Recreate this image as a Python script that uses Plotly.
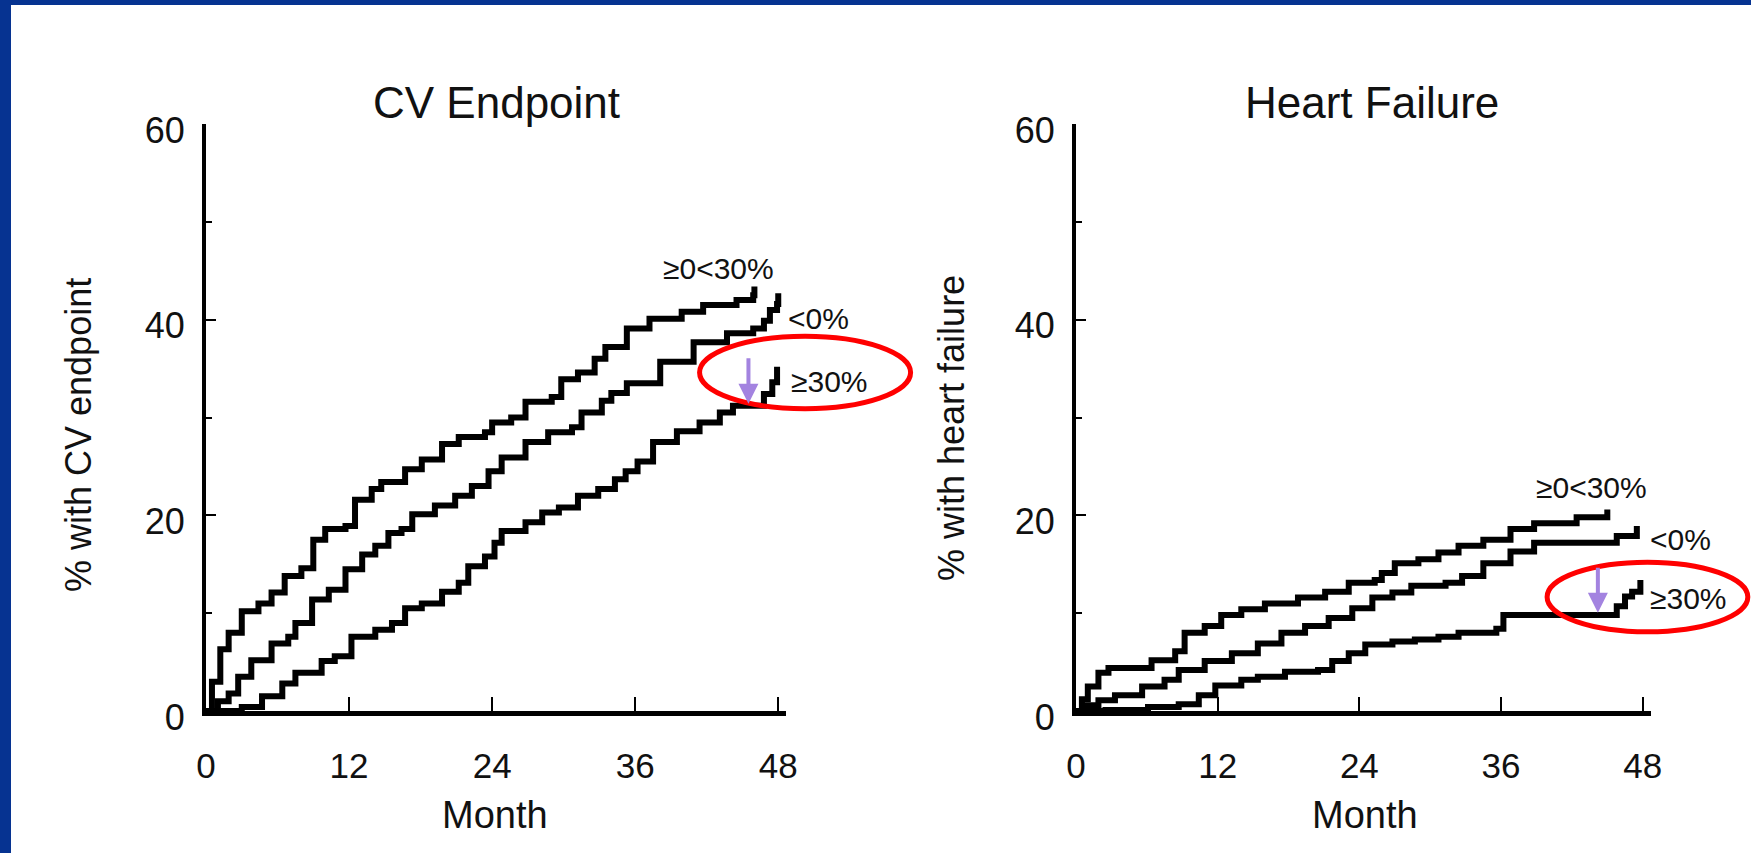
import plotly.graph_objects as go

# ---------------- data ----------------
MONTH_TICKS = [0, 12, 24, 36, 48]
PCT_TICKS = [0, 20, 40, 60]
PCT_MINOR = [10, 30, 50]

# CV Endpoint panel
cv_mid_m = [0, 0.5, 1.2, 1.9, 3.0, 4.4, 5.5, 6.6, 8.0, 9.0, 10.0, 11.7, 12.5, 13.9, 14.7, 16.7, 18.1,
            19.8, 21.2, 23.4, 24.0, 25.6, 26.8, 29.0, 29.8, 31.2, 32.6, 33.5, 35.3, 37.2, 39.9, 41.7,
            44.5, 45.9, 46.0]
cv_mid_v = [0, 3.0, 6.3, 8.0, 10.2, 11.0, 12.1, 13.8, 14.6, 17.5, 18.6, 18.9, 21.6, 22.7, 23.4, 24.7,
            25.7, 27.3, 28.0, 28.5, 29.5, 30.0, 31.6, 32.1, 33.9, 34.6, 36.0, 37.2, 39.1, 40.1, 40.8,
            41.5, 42.0, 42.5, 43.4]

cv_neg_m = [0, 1.0, 1.9, 2.7, 3.8, 5.5, 6.9, 7.5, 8.9, 10.3, 11.7, 13.1, 14.2, 15.3, 16.4, 17.3, 19.2,
            20.9, 22.3, 23.7, 24.8, 26.8, 28.7, 30.7, 31.5, 33.2, 34.0, 35.3, 38.1, 40.9, 43.7, 45.9,
            46.8, 47.3, 47.9, 48.0]
cv_neg_v = [0, 1.0, 1.8, 3.5, 5.2, 6.9, 7.6, 9.0, 11.4, 12.4, 14.5, 16.0, 16.9, 18.2, 18.6, 20.1, 21.0,
            22.0, 23.0, 24.5, 25.9, 27.5, 28.5, 29.0, 30.5, 31.7, 32.5, 33.5, 35.7, 37.7, 38.6, 39.1,
            39.9, 41.0, 41.6, 42.7]

cv_high_m = [0, 3.0, 4.7, 6.4, 7.5, 9.7, 10.8, 12.2, 14.2, 15.6, 16.7, 18.1, 19.8, 21.2, 22.0, 23.4,
             24.2, 24.8, 26.8, 28.2, 29.6, 31.2, 32.9, 34.3, 35.2, 36.2, 37.5, 39.5, 41.4, 43.1, 44.2,
             46.8, 47.5, 47.9]
cv_high_v = [0, 0.4, 1.5, 2.8, 3.9, 5.1, 5.6, 7.6, 8.3, 9.0, 10.5, 11.0, 12.2, 13.1, 14.8, 15.8, 17.2,
             18.4, 19.3, 20.3, 20.8, 22.0, 22.7, 23.7, 24.5, 25.5, 27.5, 28.6, 29.5, 30.5, 31.2, 32.4,
             33.6, 35.2]

# Heart Failure panel
hf_mid_m = [0, 0.5, 1.0, 1.9, 2.75, 6.4, 8.4, 9.2, 10.9, 12.3, 14.0, 16.0, 18.8, 21.1, 23.1, 25.3,
            25.9, 27.0, 29.0, 30.7, 32.4, 34.5, 36.8, 38.8, 42.4, 45.0]
hf_mid_v = [0, 1.2, 2.5, 3.9, 4.4, 5.2, 6.1, 8.0, 8.7, 9.8, 10.4, 11.0, 11.6, 12.2, 13.1, 13.4, 14.1,
            15.1, 15.5, 16.2, 16.9, 17.5, 18.6, 19.2, 19.8, 20.6]

hf_neg_m = [0, 0.8, 1.9, 3.3, 5.6, 7.5, 8.7, 10.9, 13.2, 15.4, 17.4, 19.4, 21.4, 23.4, 25.1, 26.8,
            28.4, 31.3, 32.7, 34.5, 36.8, 38.8, 45.8, 47.5]
hf_neg_v = [0, 0.6, 1.1, 1.6, 2.5, 3.2, 4.2, 5.1, 5.9, 6.9, 8.0, 8.7, 9.5, 10.5, 11.6, 12.1, 12.8,
            13.1, 13.8, 15.1, 16.3, 17.2, 17.9, 18.9]

hf_high_m = [0, 2.5, 6.1, 8.7, 10.4, 11.8, 14.0, 15.4, 17.7, 20.5, 21.7, 23.1, 24.5, 26.8, 28.7, 30.7,
             32.4, 35.6, 36.2, 45.8, 46.5, 47.1, 47.8]
hf_high_v = [0, 0.1, 0.4, 0.7, 1.6, 2.6, 3.2, 3.5, 4.0, 4.2, 5.1, 5.9, 6.8, 7.1, 7.3, 7.6, 8.0, 8.4,
             9.8, 10.7, 11.7, 12.2, 13.4]

GROUP_LABELS = ["≥0<30%", "<0%", "≥30%"]
PANEL_TITLES = ["CV Endpoint", "Heart Failure"]
Y_TITLES = ["% with CV endpoint", "% with heart failure"]
X_TITLE = "Month"

# label anchor positions (month, %) per panel
cv_label_pos = [(43.0, 45.2), (51.4, 40.1), (52.3, 33.7)]
hf_label_pos = [(43.7, 22.8), (51.2, 17.5), (51.9, 11.5)]

# highlight ellipses (month range, % range) and arrows (month, from %, to %)
cv_ellipse = ((41.4, 59.1), (30.9, 38.3))
hf_ellipse = ((39.9, 56.9), (8.1, 15.2))
cv_arrow = (45.5, 36.2, 31.4)
hf_arrow = (44.2, 14.8, 10.05)

# ---------------- layout constants ----------------
W, H = 1751, 853
FONT = "Liberation Sans, Arial, sans-serif"
INK = "#111111"
BLUE = "#063391"
RED = "#ff0000"
PURPLE = "#a383e0"

X_RANGE_L = [0, 48.65]
X_RANGE_R = [0, 48.7]
Y_RANGE = [0, 60]
XDOM_L = [206 / W, 786 / W]
XDOM_R = [1076 / W, 1651 / W]
YDOM = [142 / H, 729 / H]


def frac(v, rng):
    return (v - rng[0]) / (rng[1] - rng[0])


fig = go.Figure()

panels = [
    ("x", "y", [(cv_mid_m, cv_mid_v), (cv_neg_m, cv_neg_v), (cv_high_m, cv_high_v)]),
    ("x2", "y2", [(hf_mid_m, hf_mid_v), (hf_neg_m, hf_neg_v), (hf_high_m, hf_high_v)]),
]
for xa, ya, series in panels:
    for m, v in series:
        fig.add_trace(go.Scatter(x=m, y=v, mode="lines", xaxis=xa, yaxis=ya,
                                 line=dict(color="black", width=6, shape="hv"),
                                 hoverinfo="skip", showlegend=False))


def xaxis_cfg(domain, rng):
    return dict(domain=domain, range=rng, showline=True, linecolor="black", linewidth=5,
                ticks="inside", ticklen=14, tickwidth=2, tickcolor="black",
                tickvals=MONTH_TICKS, tickfont=dict(family=FONT, size=35, color=INK),
                showgrid=False, zeroline=False, ticklabelstandoff=20, fixedrange=True,
                automargin=False)


def yaxis_cfg(anchor):
    return dict(domain=YDOM, range=Y_RANGE, anchor=anchor, showline=True, linecolor="black",
                linewidth=4, ticks="inside", ticklen=10, tickwidth=2, tickcolor="black",
                tickvals=PCT_TICKS, tickfont=dict(family=FONT, size=36, color=INK),
                minor=dict(tickvals=PCT_MINOR, ticks="inside", ticklen=6, tickwidth=2,
                           tickcolor="black"),
                showgrid=False, zeroline=False, ticklabelstandoff=10, ticklabelshift=6,
                fixedrange=True, automargin=False)


annotations = []
# panel titles
for xa, title, dx in (("x", PANEL_TITLES[0], 0), ("x2", PANEL_TITLES[1], 8)):
    annotations.append(dict(text=title, xref=f"{xa} domain", yref="paper", x=0.5, y=1 - 103 / H,
                            xshift=dx, showarrow=False, font=dict(family=FONT, size=44, color=INK),
                            xanchor="center", yanchor="middle"))
# axis titles
for cx in (495, 1365):
    annotations.append(dict(text=X_TITLE, xref="paper", yref="paper", x=cx / W, y=1 - 815 / H,
                            showarrow=False, font=dict(family=FONT, size=38, color=INK),
                            xanchor="center", yanchor="middle"))
for txt, cx, cy in ((Y_TITLES[0], 78, 435), (Y_TITLES[1], 951, 428)):
    annotations.append(dict(text=txt, xref="paper", yref="paper", x=cx / W, y=1 - cy / H,
                            textangle=-90, showarrow=False,
                            font=dict(family=FONT, size=36, color=INK),
                            xanchor="center", yanchor="middle"))
# group labels (axis-domain refs so labels right of the axis end stay visible)
for xa, ya, rng, pos in (("x", "y", X_RANGE_L, cv_label_pos), ("x2", "y2", X_RANGE_R, hf_label_pos)):
    for lab, (mx, py) in zip(GROUP_LABELS, pos):
        annotations.append(dict(text=lab, xref=f"{xa} domain", yref=f"{ya} domain",
                                x=frac(mx, rng), y=frac(py, Y_RANGE), showarrow=False,
                                font=dict(family=FONT, size=30, color=INK),
                                xanchor="center", yanchor="middle"))
# purple arrows
for xa, ya, (mx, p_from, p_to) in (("x", "y", cv_arrow), ("x2", "y2", hf_arrow)):
    annotations.append(dict(text="", xref=xa, yref=ya, axref=xa, ayref=ya, x=mx, y=p_to,
                            ax=mx, ay=p_from, showarrow=True, arrowhead=2, arrowsize=1.0,
                            arrowwidth=4, arrowcolor=PURPLE))

shapes = []
# red ellipses (positioned via axis-domain fractions so they are not clipped)
for xa, ya, rng, (mr, pr) in (("x", "y", X_RANGE_L, cv_ellipse), ("x2", "y2", X_RANGE_R, hf_ellipse)):
    shapes.append(dict(type="circle", xref=f"{xa} domain", yref=f"{ya} domain",
                       x0=frac(mr[0], rng), x1=frac(mr[1], rng),
                       y0=frac(pr[0], Y_RANGE), y1=frac(pr[1], Y_RANGE),
                       line=dict(color=RED, width=5), layer="above"))
# blue slide frame (top and left)
shapes.append(dict(type="rect", xref="paper", yref="paper", x0=0, x1=11 / W, y0=0, y1=1,
                   fillcolor=BLUE, line=dict(width=0), layer="above"))
shapes.append(dict(type="rect", xref="paper", yref="paper", x0=0, x1=1, y0=1 - 5 / H, y1=1,
                   fillcolor=BLUE, line=dict(width=0), layer="above"))

fig.update_layout(
    width=W, height=H,
    margin=dict(l=0, r=0, t=0, b=0, pad=0, autoexpand=False),
    paper_bgcolor="white", plot_bgcolor="white",
    font=dict(family=FONT, color=INK),
    xaxis=dict(xaxis_cfg(XDOM_L, X_RANGE_L), anchor="y"),
    yaxis=yaxis_cfg("x"),
    xaxis2=dict(xaxis_cfg(XDOM_R, X_RANGE_R), anchor="y2"),
    yaxis2=yaxis_cfg("x2"),
    annotations=annotations, shapes=shapes, showlegend=False,
)

fig.write_html("out.html", config={"displayModeBar": False})
